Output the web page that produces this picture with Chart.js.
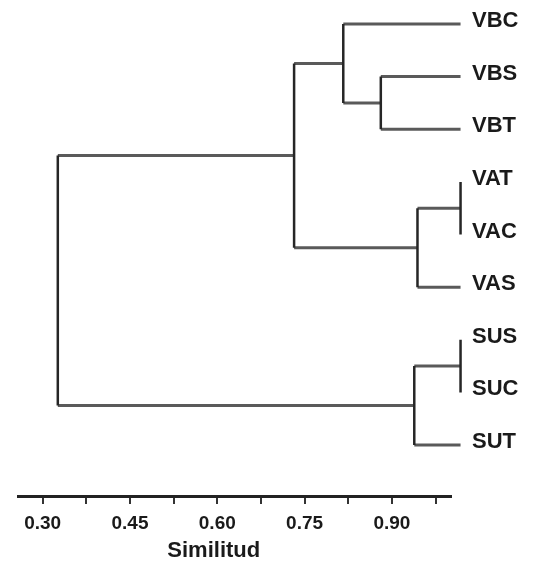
<!DOCTYPE html>
<html>
<head>
<meta charset="utf-8">
<script src="https://cdn.jsdelivr.net/npm/chart.js@4"></script>
<style>
  html, body { margin: 0; padding: 0; background: #fff; }
</style>
</head>
<body>
<canvas id="dendro" width="534" height="561"></canvas>
<script>
// leaves, top to bottom
const leafNames = ['VBC', 'VBS', 'VBT', 'VAT', 'VAC', 'VAS', 'SUS', 'SUC', 'SUT'];
const leafSim = 1.018;

// merges: node ids 0..8 are leaves, each merge makes node 9, 10, ...
const mergeLeft  = [3, 6, 1, 10, 9, 0, 14, 15];
const mergeRight = [4, 7, 2, 8, 5, 11, 13, 12];
const mergeSim   = [1.018, 1.018, 0.881, 0.9385, 0.944, 0.8165, 0.732, 0.326];

const tickValues = [0.30, 0.375, 0.45, 0.525, 0.60, 0.675, 0.75, 0.825, 0.90, 0.975];
const tickLabels = ['0.30', '', '0.45', '', '0.60', '', '0.75', '', '0.90', ''];
const xTitle = 'Similitud';

const FONT = '"Liberation Sans", Arial, Helvetica, sans-serif';

// build line segments from the merge table
const nodeX = leafNames.map(() => leafSim);
const nodeY = leafNames.map((n, i) => i);
const datasets = [];

function seg(p1, p2, vertical) {
  datasets.push({
    data: [p1, p2],
    borderColor: vertical ? '#262626' : '#5a5a5a',
    borderWidth: vertical ? 2.5 : 3,
    pointRadius: 0,
    fill: false,
    tension: 0,
    clip: false,
    order: vertical ? 0 : 1
  });
}

for (let m = 0; m < mergeSim.length; m++) {
  const a = mergeLeft[m], b = mergeRight[m], h = mergeSim[m];
  seg({x: nodeX[a], y: nodeY[a]}, {x: h, y: nodeY[a]}, false);
  seg({x: nodeX[b], y: nodeY[b]}, {x: h, y: nodeY[b]}, false);
  seg({x: h, y: nodeY[a]}, {x: h, y: nodeY[b]}, true);
  nodeX.push(h);
  nodeY.push((nodeY[a] + nodeY[b]) / 2);
}

const axisTitle = {
  id: 'axisTitle',
  afterDraw(chart) {
    const ctx = chart.ctx;
    const xs = chart.scales.x;
    ctx.save();
    ctx.font = 'bold 22px ' + FONT;
    ctx.fillStyle = '#1a1a1a';
    ctx.textAlign = 'center';
    ctx.textBaseline = 'middle';
    ctx.fillText(xTitle, xs.getPixelForValue(0.594), xs.bottom - 10);
    ctx.restore();
  }
};

new Chart(document.getElementById('dendro'), {
  type: 'line',
  data: { datasets: datasets },
  options: {
    responsive: false,
    animation: false,
    layout: { padding: { left: 18, right: 0, top: 0, bottom: 0 } },
    plugins: {
      legend: { display: false },
      tooltip: { enabled: false }
    },
    scales: {
      x: {
        type: 'linear',
        min: 0.2576,
        max: 1.0016,
        afterBuildTicks: s => { s.ticks = tickValues.map(v => ({ value: v })); },
        afterFit: s => { s.height = 65; s.paddingLeft = 0; s.paddingRight = 0; },
        grid: {
          drawOnChartArea: false,
          drawTicks: true,
          tickLength: 8,
          lineWidth: 2,
          tickColor: '#333'
        },
        border: { display: true, color: '#222', width: 3 },
        ticks: {
          autoSkip: false,
          maxRotation: 0,
          padding: 8,
          color: '#1a1a1a',
          font: { family: FONT, size: 19, weight: 'bold' },
          callback: (v, i) => tickLabels[i]
        }
      },
      y: {
        type: 'linear',
        position: 'right',
        reverse: true,
        min: -0.456,
        max: 8.969,
        afterBuildTicks: s => { s.ticks = leafNames.map((n, i) => ({ value: i })); },
        afterFit: s => { s.width = 83; s.paddingTop = 0; s.paddingBottom = 0; },
        grid: { display: false, drawTicks: false },
        border: { display: false },
        ticks: {
          autoSkip: false,
          padding: 21,
          labelOffset: -3,
          color: '#1a1a1a',
          font: { family: FONT, size: 22, weight: 'bold' },
          callback: (v, i) => leafNames[i]
        }
      }
    }
  },
  plugins: [axisTitle]
});
</script>
</body>
</html>
